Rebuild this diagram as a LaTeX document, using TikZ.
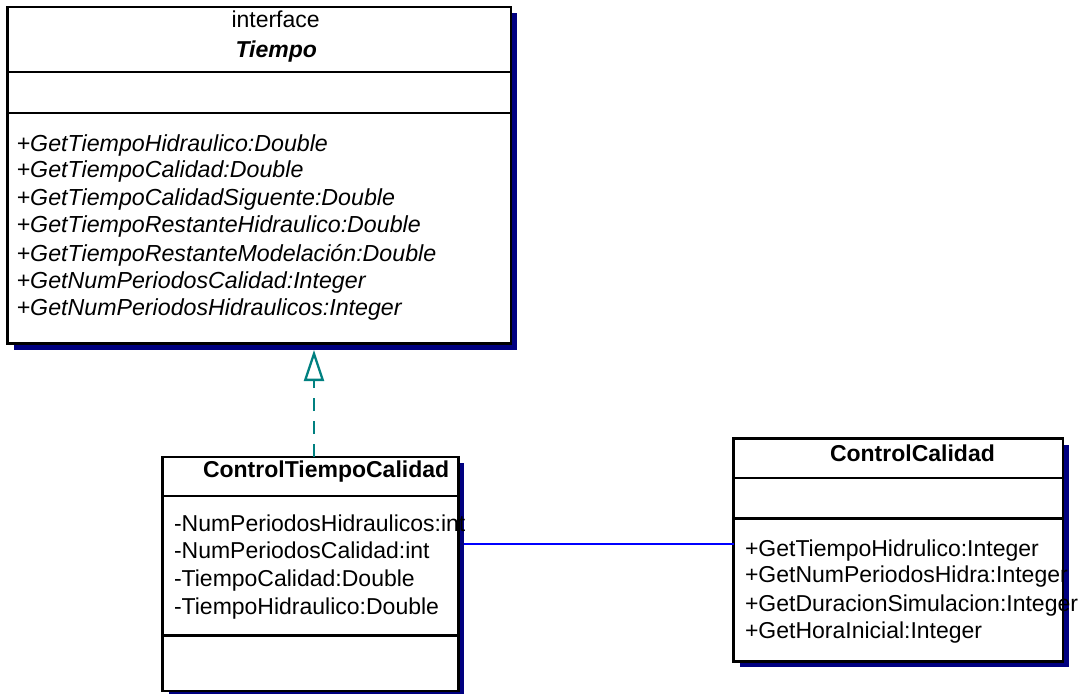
\documentclass[tikz,border=0pt]{standalone}
\usepackage{fontspec}
\setmainfont{Liberation Sans}
\usetikzlibrary{arrows.meta,shadows,calc}

\definecolor{shadownavy}{RGB}{0,0,128}
\definecolor{realteal}{RGB}{0,128,128}
\definecolor{assocblue}{RGB}{0,0,255}

\begin{document}
\begin{tikzpicture}[x=1pt,y=-1pt,
  classbox/.style={draw=black, line width=2.6pt, fill=white, inner sep=0pt, outer sep=0pt,
    drop shadow={fill=shadownavy, opacity=1, shadow xshift=6pt, shadow yshift=-6pt}},
  divider/.style={draw=black, line width=2.6pt},
  txt/.style={anchor=base west, inner sep=0pt, outer sep=0pt, font={\fontsize{23}{23}\selectfont}},
  ittxt/.style={txt, font={\itshape\fontsize{23.2}{23.2}\selectfont}},
  titletxt/.style={txt, font={\bfseries\fontsize{23}{23}\selectfont}},
  ifacetxt/.style={txt, font={\fontsize{23}{23}\selectfont}},
  ifacename/.style={txt, font={\bfseries\itshape\fontsize{23}{23}\selectfont}},
  realize/.style={draw=realteal, line width=2.3pt, dash pattern=on 13pt off 10pt,
    -{Triangle[open, length=31pt, width=20pt, fill=white]}},
  assoc/.style={draw=assocblue, line width=2pt}
]
\useasboundingbox (0,0) rectangle (1086,693);

% interface Tiempo
\node[classbox, minimum width=503.3pt, minimum height=336.5pt] (tiempo) at (259.35,175.25) {};
\draw[divider] (7.7,72) -- (511,72);
\draw[divider] (7.7,113) -- (511,113);
\node[ifacetxt] (tiempoStereo) at (231.5,28) {interface};
\node[ifacename] (tiempoName) at (235.5,57) {Tiempo};
\node[ittxt] (tm1) at (16.7,151) {+GetTiempoHidraulico:Double};
\node[ittxt] (tm2) at (16.7,177) {+GetTiempoCalidad:Double};
\node[ittxt] (tm3) at (16.7,205) {+GetTiempoCalidadSiguente:Double};
\node[ittxt] (tm4) at (16.7,232) {+GetTiempoRestanteHidraulico:Double};
\node[ittxt] (tm5) at (16.7,261) {+GetTiempoRestanteModelación:Double};
\node[ittxt] (tm6) at (16.7,288) {+GetNumPeriodosCalidad:Integer};
\node[ittxt] (tm7) at (16.7,315) {+GetNumPeriodosHidraulicos:Integer};

% class ControlTiempoCalidad
\node[classbox, minimum width=295.8pt, minimum height=234pt] (ctc) at (310.4,574) {};
\draw[divider] (162.5,496) -- (458.3,496);
\draw[divider] (162.5,635.3) -- (458.3,635.3);
\node[titletxt] (ctcName) at (203,477) {ControlTiempoCalidad};
\node[txt] (ca1) at (174,531.7) {-NumPeriodosHidraulicos:int};
\node[txt] (ca2) at (174,558) {-NumPeriodosCalidad:int};
\node[txt] (ca3) at (174,586) {-TiempoCalidad:Double};
\node[txt] (ca4) at (174,614) {-TiempoHidraulico:Double};

% class ControlCalidad
\node[classbox, minimum width=329.5pt, minimum height=222.6pt] (cc) at (898.25,550) {};
\draw[divider] (733.5,478) -- (1063,478);
\draw[divider] (733.5,518.7) -- (1063,518.7);
\node[titletxt] (ccName) at (830,461.5) {ControlCalidad};
\node[txt] (cm1) at (745,556) {+GetTiempoHidrulico:Integer};
\node[txt] (cm2) at (745,582.5) {+GetNumPeriodosHidra:Integer};
\node[txt] (cm3) at (745,611.5) {+GetDuracionSimulacion:Integer};
\node[txt] (cm4) at (745,638.5) {+GetHoraInicial:Integer};

% realization: ControlTiempoCalidad implements Tiempo
\draw[realize] ([xshift=3.6pt]ctc.north) -- ($([xshift=3.6pt]ctc.north |- tiempo.south)+(0,6.5)$);

% association between the two classes
\draw[assoc] ([xshift=6pt,yshift=30pt]ctc.east) coordinate (assocStart) -- (assocStart -| cc.west);
\end{tikzpicture}
\end{document}
